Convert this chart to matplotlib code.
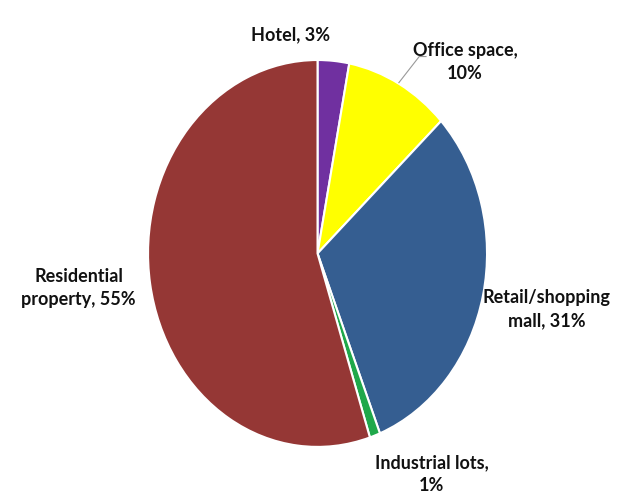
import matplotlib.pyplot as plt

labels = ['Hotel', 'Office space', 'Retail/shopping\nmall', 'Industrial lots', 'Residential\nproperty']
shares = [3, 10, 31, 1, 55]
colors = ['#7030A0', '#FFFF00', '#355E91', '#1FA84A', '#953735']

fig = plt.figure(figsize=(6.22, 4.96), dpi=100)
ax = fig.add_axes([0.238, 0.099, 0.545, 0.780])

ax.pie(shares, colors=colors, startangle=90, counterclock=False,
       wedgeprops=dict(edgecolor='white', linewidth=1.5))
ax.set_aspect('auto')
ax.set_xlim(-1, 1)
ax.set_ylim(-1, 1)

# label text and where it sits (data units of the stretched pie)
label_pos = [(-0.16, 1.13), (0.87, 0.99), (1.35, -0.287), (0.674, -1.14), (-1.41, -0.178)]
label_txt = [
    f'{labels[0]}, {shares[0]}%',
    f'{labels[1]},\n{shares[1]}%',
    f'{labels[2]}, {shares[2]}%',
    f'{labels[3]},\n{shares[3]}%',
    f'{labels[4]}, {shares[4]}%',
]
for (x, y), s in zip(label_pos, label_txt):
    ax.text(x, y, s, ha='center', va='center', fontsize=13, fontweight='bold',
            family=['Lato', 'DejaVu Sans'], color='#111111', linespacing=1.45,
            clip_on=False)

# leader line for the office slice
ax.plot([0.48, 0.60, 0.64], [0.883, 1.018, 1.018], color='#999999', lw=0.8,
        clip_on=False)

fig.savefig('out.png', dpi=100, facecolor='white')
